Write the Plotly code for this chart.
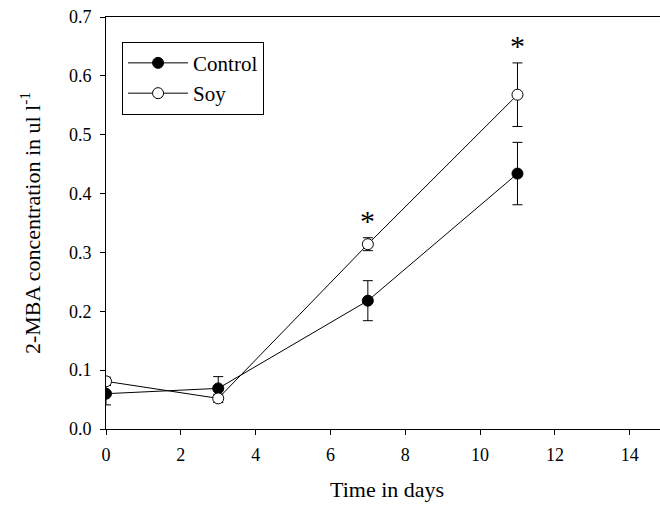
import plotly.graph_objects as go

days = [0, 3, 7, 11]
control = [0.060, 0.069, 0.218, 0.434]
control_err = [0.019, 0.020, 0.034, 0.053]
soy = [0.081, 0.052, 0.314, 0.568]
soy_err = [0.007, 0.007, 0.011, 0.054]
sig_days = [7, 11]
x_ticks = [0, 2, 4, 6, 8, 10, 12, 14]
y_ticks = [0, 0.1, 0.2, 0.3, 0.4, 0.5, 0.6, 0.7]
x_title = "Time in days"
y_title = "2-MBA concentration in ul l<sup>-1</sup>"

FONT = "Liberation Serif"

fig = go.Figure()
fig.add_trace(go.Scatter(
    x=days, y=control, name="Control", mode="lines+markers",
    line=dict(color="black", width=1),
    marker=dict(symbol="circle", size=11, color="black", line=dict(color="black", width=1)),
    error_y=dict(type="data", array=control_err, visible=True, color="black", thickness=1, width=5),
))
fig.add_trace(go.Scatter(
    x=days, y=soy, name="Soy", mode="lines+markers",
    line=dict(color="black", width=1),
    marker=dict(symbol="circle", size=11, color="white", line=dict(color="black", width=1)),
    error_y=dict(type="data", array=soy_err, visible=True, color="black", thickness=1, width=5),
))

for d in sig_days:
    i = days.index(d)
    fig.add_annotation(x=d, y=soy[i] + soy_err[i], text="*", showarrow=False,
                       yanchor="bottom", yshift=-1, font=dict(family=FONT, size=30, color="black"))

# x-axis title placed as a paper annotation
fig.add_annotation(xref="paper", yref="paper", x=0.508, y=-0.148, text=x_title,
                   showarrow=False, xanchor="center", yanchor="middle",
                   font=dict(family=FONT, size=22, color="black"))

fig.update_layout(
    width=660, height=505,
    margin=dict(l=106, r=0, t=17, b=76),
    plot_bgcolor="white", paper_bgcolor="white",
    font=dict(family=FONT, size=18, color="black"),
    showlegend=True,
    legend=dict(x=0.029, y=0.94, xanchor="left", yanchor="top",
                bordercolor="black", borderwidth=1, bgcolor="white",
                font=dict(family=FONT, size=21, color="black"), tracegroupgap=0,
                itemwidth=60),
)
fig.update_xaxes(
    range=[0, 14.81], tickvals=x_ticks, automargin=False,
    showline=True, linecolor="black", linewidth=1, mirror=True,
    ticks="outside", ticklen=5, tickcolor="black", ticklabelstandoff=4,
    showgrid=False, zeroline=False,
    tickfont=dict(family=FONT, size=18),
)
fig.update_yaxes(
    range=[0, 0.7], tickvals=y_ticks, tickformat=".1f", automargin=False,
    showline=True, linecolor="black", linewidth=1,
    ticks="outside", ticklen=5, tickcolor="black", ticklabelstandoff=5,
    showgrid=False, zeroline=False,
    tickfont=dict(family=FONT, size=18),
    title=dict(text=y_title, font=dict(family=FONT, size=22), standoff=22),
)

fig.write_html("out.html", config={"displayModeBar": False},
               post_script="document.body.style.margin='0';document.documentElement.style.overflow='hidden';")
